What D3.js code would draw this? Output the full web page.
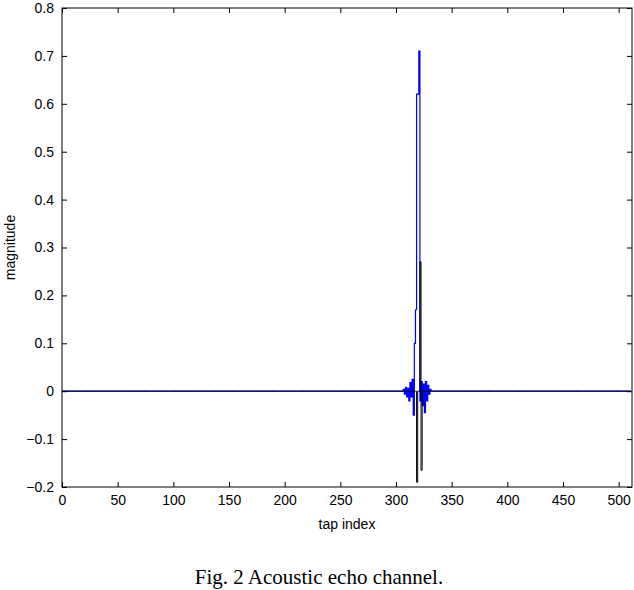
<!DOCTYPE html>
<html><head><meta charset="utf-8">
<script src="https://cdn.jsdelivr.net/npm/d3@7"></script>
<style>body{margin:0;background:#fff}</style>
</head><body>
<script>
// tap values (non-zero region only; all other taps are 0)
const nTaps = 512;
const blueStart = 306;
const blueVals = [0, 0.004, -0.006, 0.008, -0.012, 0.006, -0.02, 0.018, -0.012, 0.025, -0.05, 0.1, 0.17, 0.62, 0.62, 0.71, -0.02, 0.02, -0.03, 0.015, -0.045, 0.02, -0.02, 0.012, -0.006, 0.004, 0, 0];
const blackStart = 316;
const blackVals = [0, 0, 0, -0.19, 0, 0, 0.27, -0.165, 0, 0];
const xTicks = d3.range(0, 501, 50);
const yTicks = d3.range(-0.2, 0.801, 0.1);

function series(start, vals) {
  return d3.range(nTaps).map(i => [i, (i >= start && i < start + vals.length) ? vals[i - start] : 0]);
}

const W = 634, H = 590, m = {l: 62, r: 2, t: 8, b: 103};
const svg = d3.select("body").append("svg").attr("width", W).attr("height", H)
  .style("font-family", "Liberation Sans, Arial, sans-serif");
const x = d3.scaleLinear().domain([0, 512]).range([m.l, W - m.r]);
const y = d3.scaleLinear().domain([-0.2, 0.8]).range([H - m.b, m.t]);

const line = d3.line().x(d => x(d[0])).y(d => y(d[1])).curve(d3.curveStep);
svg.append("path").datum(series(blueStart, blueVals)).attr("d", line)
  .attr("fill", "none").attr("stroke", "#0000ff").attr("stroke-width", 1.2);
svg.append("path").datum(series(blackStart, blackVals)).attr("d", line)
  .attr("fill", "none").attr("stroke", "#000").attr("stroke-width", 1);

svg.append("rect").attr("x", m.l).attr("y", m.t).attr("width", W - m.r - m.l).attr("height", H - m.b - m.t)
  .attr("fill", "none").attr("stroke", "#000");

const fmt = d => (Math.abs(d) < 1e-9 ? "0" : d3.format(".1f")(d));
svg.append("g").attr("transform", `translate(0,${H - m.b})`)
  .call(d3.axisBottom(x).tickValues(xTicks).tickSizeInner(-5).tickSizeOuter(0).tickPadding(8))
  .call(g => g.select(".domain").remove());
svg.append("g").attr("transform", `translate(0,${m.t})`)
  .call(d3.axisTop(x).tickValues(xTicks).tickSizeInner(-5).tickSizeOuter(0).tickFormat(""))
  .call(g => g.select(".domain").remove());
svg.append("g").attr("transform", `translate(${m.l},0)`)
  .call(d3.axisLeft(y).tickValues(yTicks).tickFormat(fmt).tickSizeInner(-5).tickSizeOuter(0).tickPadding(8))
  .call(g => g.select(".domain").remove());
svg.append("g").attr("transform", `translate(${W - m.r},0)`)
  .call(d3.axisRight(y).tickValues(yTicks).tickSizeInner(-5).tickSizeOuter(0).tickFormat(""))
  .call(g => g.select(".domain").remove());
svg.selectAll(".tick text").attr("font-size", 14).attr("fill", "#000")
  .style("font-family", "Liberation Sans, Arial, sans-serif");

svg.append("text").attr("x", (m.l + W - m.r) / 2).attr("y", 529).attr("text-anchor", "middle")
  .attr("font-size", 14).text("tap index");
svg.append("text").attr("transform", `translate(15,${(m.t + H - m.b) / 2}) rotate(-90)`)
  .attr("text-anchor", "middle").attr("font-size", 14).text("magnitude");
svg.append("text").attr("x", 319).attr("y", 584).attr("text-anchor", "middle")
  .attr("font-size", 21).style("font-family", "Liberation Serif, Times New Roman, serif")
  .text("Fig. 2 Acoustic echo channel.");
</script>
</body></html>
